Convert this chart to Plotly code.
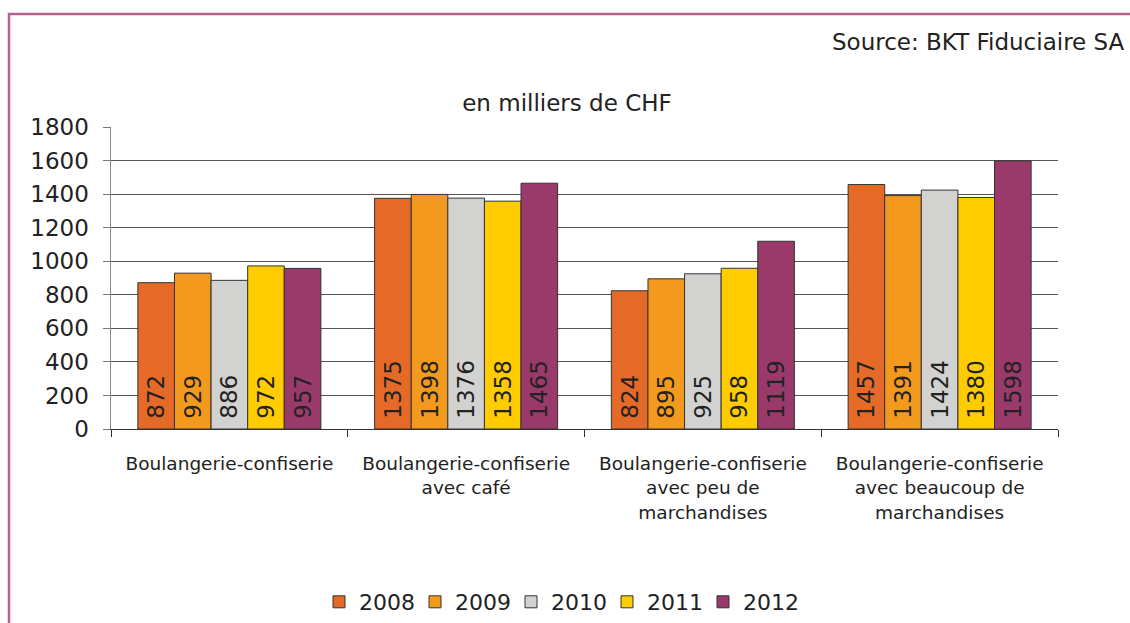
import plotly.graph_objects as go

categories = [
    "Boulangerie-confiserie",
    "Boulangerie-confiserie<br>avec café",
    "Boulangerie-confiserie<br>avec peu de<br>marchandises",
    "Boulangerie-confiserie<br>avec beaucoup de<br>marchandises",
]
years = ["2008", "2009", "2010", "2011", "2012"]
values_2008 = [872, 1375, 824, 1457]
values_2009 = [929, 1398, 895, 1391]
values_2010 = [886, 1376, 925, 1424]
values_2011 = [972, 1358, 958, 1380]
values_2012 = [957, 1465, 1119, 1598]
series = [values_2008, values_2009, values_2010, values_2011, values_2012]
colors = ["#E66A27", "#F39A1E", "#D2D3D1", "#FFCC00", "#9A3A6A"]
y_ticks = [0, 200, 400, 600, 800, 1000, 1200, 1400, 1600, 1800]

W, H = 1130, 623
L, R, T, B = 111, 72, 127, 194
PW, PH = W - L - R, H - T - B
FONT = "DejaVu Sans"
TXT = "#222222"

fig = go.Figure()
for yr, vals, col in zip(years, series, colors):
    fig.add_trace(go.Bar(
        name=yr, x=categories, y=vals,
        marker=dict(color=col, line=dict(color="#333333", width=1)),
        texttemplate="\u00a0%{y}",
        textposition="inside", insidetextanchor="start", textangle=-90,
        textfont=dict(family=FONT, size=23, color=TXT),
        hoverinfo="skip",
    ))

fig.update_layout(
    width=W, height=H,
    margin=dict(l=L, r=R, t=T, b=B, autoexpand=False),
    paper_bgcolor="white", plot_bgcolor="white",
    barmode="group", bargap=0.227, bargroupgap=0,
    font=dict(family=FONT, color=TXT),
    title=dict(text="en milliers de CHF", x=(567 - L) / PW, xref="paper", xanchor="center",
               y=1 - 103 / H, yanchor="middle", font=dict(family=FONT, size=23, color=TXT)),
    legend=dict(orientation="h", x=(559 - L) / PW, xref="paper", xanchor="center",
                y=(429 - 602) / PH, yanchor="middle", entrywidth=51, entrywidthmode="pixels",
                font=dict(family=FONT, size=22, color=TXT), traceorder="normal"),
    showlegend=True,
)
fig.update_yaxes(range=[0, 1800], tickvals=y_ticks, ticks="outside", ticklen=7, tickcolor="#777777",
                 showline=True, linecolor="#888888", linewidth=1.5, ticklabelstandoff=9,
                 showgrid=True, gridcolor="#555555", gridwidth=1,
                 tickfont=dict(family=FONT, size=23, color=TXT), zeroline=False, fixedrange=True)
fig.update_xaxes(type="category", tickson="boundaries", ticks="outside", ticklen=7, tickcolor="#333333",
                 showline=True, linecolor="#333333", linewidth=1.2, showgrid=False, ticklabelstandoff=18,
                 tickfont=dict(family=FONT, size=18.5, color=TXT), fixedrange=True)

fig.add_annotation(text="Source: BKT Fiduciaire SA", xref="paper", yref="paper",
                   x=(1127 - L) / PW, y=(429 - 42) / PH, xanchor="right", yanchor="middle",
                   showarrow=False, font=dict(family=FONT, size=23, color=TXT))

fig.add_shape(type="rect", xref="paper", yref="paper",
              x0=(9 - L) / PW, x1=(1140 - L) / PW, y0=(429 - 640) / PH, y1=(429 - 14) / PH,
              line=dict(color="#B5608E", width=2.5), fillcolor="rgba(0,0,0,0)", layer="below")

fig.write_html("out.html", config={"displayModeBar": False, "staticPlot": True},
               post_script="document.body.style.margin='0';document.body.style.overflow='hidden';")
